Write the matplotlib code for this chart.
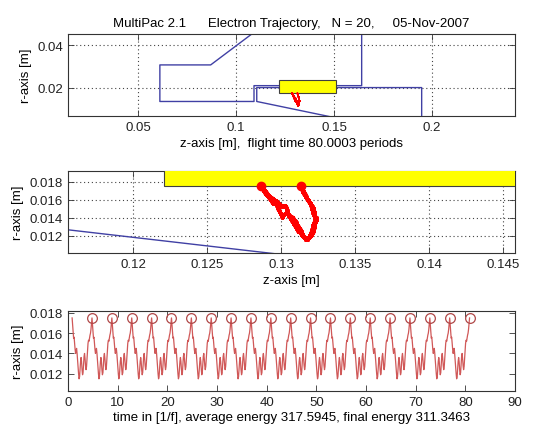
import numpy as np
import matplotlib
matplotlib.use('Agg')
import matplotlib.pyplot as plt
from matplotlib.patches import Rectangle

plt.rcParams['font.family'] = ['Liberation Sans', 'DejaVu Sans']
plt.rcParams['font.size'] = 9.5

########## geometry (boundary lines, m)
outer_z = [0.1151, 0.0871, 0.0612, 0.0612, 0.1092, 0.1092, 0.1641, 0.1641]
outer_r = [0.0500, 0.0307, 0.0307, 0.0136, 0.0136, 0.0210, 0.0210, 0.0500]
inner_z = [0.1600, 0.1106, 0.1106, 0.1947, 0.1947]
inner_r = [0.0042, 0.0136, 0.0201, 0.0201, 0.0000]

# yellow block (impact surface)
block_z = [0.1221, 0.1510]
block_r = [0.0175, 0.0236]

########## one flight between impacts
dt_pass = [0.0, 0.1, 0.2, 0.3, 0.4, 0.5, 0.6, 0.7, 0.8, 0.9,
           1.0, 1.1, 1.2, 1.3, 1.4, 1.5, 1.6, 1.7, 1.8, 1.9,
           2.0, 2.1, 2.2, 2.3, 2.4, 2.5, 2.6, 2.7, 2.8, 2.9,
           3.0, 3.1, 3.2, 3.3, 3.4, 3.5, 3.6, 3.7, 3.8, 3.9, 4.0]
r_pass = [0.0175, 0.0168, 0.0160, 0.0155, 0.0156, 0.0150, 0.0144, 0.0140, 0.0143, 0.0145,
          0.0140, 0.0133, 0.0127, 0.0120, 0.0115, 0.0117, 0.0125, 0.0132, 0.0136, 0.0132,
          0.0124, 0.0119, 0.0121, 0.0129, 0.0137, 0.0140, 0.0135, 0.0128, 0.0124, 0.0127,
          0.0135, 0.0143, 0.0150, 0.0153, 0.0152, 0.0155, 0.0158, 0.0160, 0.0164, 0.0170, 0.0175]
# left site -> right site
z_pass_a = [0.12865, 0.1289, 0.1293, 0.1295, 0.1297, 0.1298, 0.1300, 0.1301, 0.1302, 0.1304,
            0.1307, 0.1310, 0.1313, 0.1315, 0.1317, 0.1319, 0.1321, 0.1322, 0.1323, 0.1323,
            0.1322, 0.1320, 0.1321, 0.1322, 0.1324, 0.1324, 0.1323, 0.1322, 0.1321, 0.1322,
            0.1323, 0.1323, 0.1322, 0.1321, 0.1321, 0.1320, 0.1319, 0.1318, 0.1317, 0.1315, 0.13135]
# right site -> left site
z_pass_b = [0.13135, 0.1315, 0.1318, 0.1320, 0.1320, 0.1321, 0.1322, 0.1323, 0.1323, 0.1322,
            0.1323, 0.1323, 0.1322, 0.1320, 0.1318, 0.1316, 0.1313, 0.1311, 0.1310, 0.1311,
            0.1314, 0.1315, 0.1314, 0.1311, 0.1309, 0.1308, 0.1309, 0.1311, 0.1312, 0.1311,
            0.1308, 0.1305, 0.1304, 0.1303, 0.1301, 0.1299, 0.1297, 0.1295, 0.1292, 0.1289, 0.12865]

t_emit = 0.85
impact_t = [4.85, 8.85, 12.85, 16.85, 20.85, 24.85, 28.85, 32.85, 36.85, 40.85,
            44.85, 48.85, 52.85, 56.85, 60.85, 64.85, 68.85, 72.85, 76.85, 80.85]
impact_r = [0.0175] * len(impact_t)
impact_z = [0.13135, 0.12865]

########## build the full trajectory from the passes
starts = [t_emit] + impact_t[:-1]
t_all, r_all, z_all = [], [], []
for k, t0 in enumerate(starts):
    t_all.append(np.array(dt_pass) + t0)
    r_all.append(np.array(r_pass))
    z_all.append(np.array(z_pass_a if k % 2 == 0 else z_pass_b))
t_all = np.concatenate(t_all)
r_all = np.concatenate(r_all)
z_all = np.concatenate(z_all)

blue = '#4040a4'
spine_c = '#333333'


def style(ax, grid=True):
    ax.tick_params(direction='in', top=True, right=True, length=4, width=0.6,
                   colors=spine_c, labelcolor='#222222', labelsize=9.5)
    for s in ax.spines.values():
        s.set_color(spine_c)
        s.set_linewidth(0.8)
    if grid:
        ax.grid(True, linestyle=(0, (1, 2.5)), color='#444444', linewidth=0.8)
        ax.set_axisbelow(True)


def geometry(ax):
    ax.plot(outer_z, outer_r, color=blue, lw=1.0)
    ax.plot(inner_z, inner_r, color=blue, lw=1.0)
    ax.add_patch(Rectangle((block_z[0], block_r[0]), block_z[1] - block_z[0],
                           block_r[1] - block_r[0], facecolor='#ffff00',
                           edgecolor='#404040', lw=0.8, zorder=3))


fig = plt.figure(figsize=(5.52, 4.31), dpi=100)

##### top : whole geometry
ax1 = fig.add_axes([0.123, 0.7285, 0.810, 0.190])
geometry(ax1)
ax1.plot(z_all, r_all, color='red', lw=1.0, zorder=4)
ax1.set_xlim(0.0143, 0.2423)
ax1.set_ylim(0.0068, 0.0451)
ax1.set_xticks([0.05, 0.1, 0.15, 0.2])
ax1.set_xticklabels(['0.05', '0.1', '0.15', '0.2'])
ax1.set_yticks([0.02, 0.04])
ax1.set_yticklabels(['0.02', '0.04'])
ax1.set_xlabel('z-axis [m],  flight time 80.0003 periods', labelpad=3)
ax1.set_ylabel('r-axis [m]')
ax1.set_title('MultiPac 2.1      Electron Trajectory,   N = 20,     05-Nov-2007',
              fontsize=9.5, pad=6)
style(ax1)

##### middle : zoom on the impact region
ax2 = fig.add_axes([0.123, 0.4107, 0.810, 0.191])
geometry(ax2)
ax2.plot(z_all, r_all, color='red', lw=2.6, zorder=4)
ax2.plot(impact_z, [0.0175, 0.0175], 'o', color='red', ms=6, zorder=5)
ax2.set_xlim(0.1156, 0.1458)
ax2.set_ylim(0.01007, 0.01922)
ax2.set_xticks([0.12, 0.125, 0.13, 0.135, 0.14, 0.145])
ax2.set_xticklabels(['0.12', '0.125', '0.13', '0.135', '0.14', '0.145'])
ax2.set_yticks([0.012, 0.014, 0.016, 0.018])
ax2.set_yticklabels(['0.012', '0.014', '0.016', '0.018'])
ax2.set_xlabel('z-axis [m]', labelpad=3)
ax2.set_ylabel('r-axis [m]')
style(ax2)

##### bottom : r versus time
ax3 = fig.add_axes([0.123, 0.0905, 0.810, 0.186])
ax3.plot(t_all, r_all, color='#d05858', lw=0.9)
ax3.plot(impact_t, impact_r, 'o', mfc='none', mec='#b04848', ms=7, mew=0.9)
ax3.set_xlim(0, 90)
ax3.set_ylim(0.0103, 0.0182)
ax3.set_xticks(range(0, 91, 10))
ax3.set_yticks([0.012, 0.014, 0.016, 0.018])
ax3.set_yticklabels(['0.012', '0.014', '0.016', '0.018'])
ax3.set_xlabel('time in [1/f], average energy 317.5945, final energy 311.3463', labelpad=2)
ax3.set_ylabel('r-axis [m]')
style(ax3, grid=False)

plt.savefig('out.png', dpi=100)
